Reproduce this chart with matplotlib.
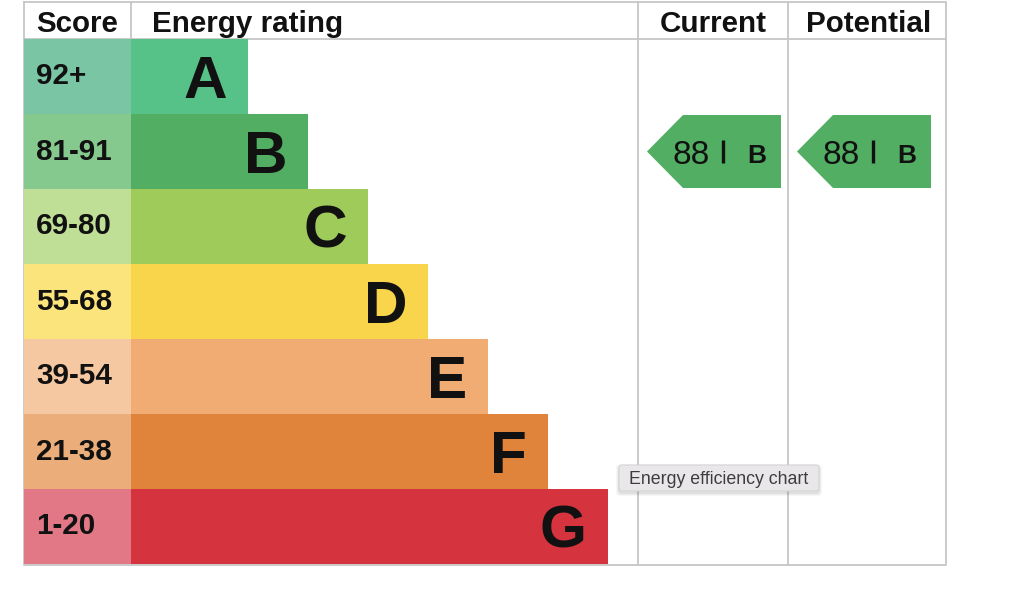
import matplotlib
matplotlib.use("Agg")
import matplotlib.pyplot as plt
from matplotlib.patches import Polygon, FancyBboxPatch

# ---- data ----
ratings = ["A", "B", "C", "D", "E", "F", "G"]
score_ranges = ["92+", "81-91", "69-80", "55-68", "39-54", "21-38", "1-20"]
bar_colors = ["#56c288", "#52ae62", "#9ecb59", "#f8d54b", "#f0ac72", "#e0843c", "#d5343f"]
score_colors = ["#7ac5a4", "#86c98e", "#c0df96", "#fbe47b", "#f5c8a1", "#ebae7b", "#e27786"]
headers = ["Score", "Energy rating", "Current", "Potential"]
current_score, current_rating = 88, "B"
potential_score, potential_rating = 88, "B"
tooltip_text = "Energy efficiency chart"

plt.rcParams['font.family'] = ['Liberation Sans', 'DejaVu Sans']

W, H = 1024, 594
fig = plt.figure(figsize=(W / 100, H / 100), dpi=100)
ax = fig.add_axes([0, 0, 1, 1])
ax.set_xlim(0, W)
ax.set_ylim(H, 0)
ax.axis("off")

# layout
left, score_right, cur_left, pot_left, right = 24, 131, 638, 788, 946
top, head_bot, row_h = 2, 39, 75
bottom = head_bot + row_h * len(ratings) + 1
grid_c = "#c6c6c6"
txt_c = "#111111"

centers = [head_bot + row_h * (i + 0.5) for i in range(len(ratings))]
widths = [117 + 60 * i for i in range(len(ratings))]

# score column and bars
ax.barh(centers, [score_right - left] * len(ratings), left=left, height=row_h,
        color=score_colors, zorder=2)
ax.barh(centers, widths, left=score_right, height=row_h, color=bar_colors, zorder=2)

for i, (r, s) in enumerate(zip(ratings, score_ranges)):
    ax.text(left + 12, centers[i] + 8, s, fontsize=21.3, fontweight="bold",
            ha="left", va="baseline", color=txt_c, zorder=3)
    ax.text(score_right + widths[i] - 21, centers[i] + 21.5, r, fontsize=43.5, fontweight="bold",
            ha="right", va="baseline", color=txt_c, zorder=3)

# grid lines
lw = 1.3
ax.plot([left, right, right, left, left], [top, top, bottom, bottom, top], color=grid_c, lw=lw, zorder=1)
ax.plot([left, right], [head_bot, head_bot], color=grid_c, lw=lw, zorder=1)
ax.plot([score_right, score_right], [top, head_bot], color=grid_c, lw=lw, zorder=1)
for x in (cur_left, pot_left):
    ax.plot([x, x], [top, bottom], color=grid_c, lw=lw, zorder=1)

# headers
hy = 31.5
ax.text(left + 12, hy, headers[0], fontsize=21.3, fontweight="bold", ha="left", va="baseline", color=txt_c)
ax.text(score_right + 21, hy, headers[1], fontsize=21.3, fontweight="bold", ha="left", va="baseline", color=txt_c)
ax.text((cur_left + pot_left) / 2, hy, headers[2], fontsize=21.3, fontweight="bold", ha="center", va="baseline", color=txt_c)
ax.text((pot_left + right) / 2 + 2, hy, headers[3], fontsize=21.3, fontweight="bold", ha="center", va="baseline", color=txt_c)

# arrows
def arrow(col_left, score, rating):
    idx = ratings.index(rating)
    yc = centers[idx]
    y0, y1 = yc - row_h / 2 + 1, yc + row_h / 2 - 1
    tip = col_left + 9
    body = tip + 36
    end = col_left + 143
    poly = Polygon([(tip, yc), (body, y0), (end, y0), (end, y1), (body, y1)],
                   closed=True, facecolor=bar_colors[idx], edgecolor="none", zorder=2)
    ax.add_patch(poly)
    ax.text(col_left + 53, yc + 12.5, str(score), fontsize=24, ha="center", va="baseline", color=txt_c, zorder=3)
    ax.plot([col_left + 84.5, col_left + 84.5], [yc - 11.5, yc + 11.5], color=txt_c, lw=2.4,
            solid_capstyle="butt", zorder=3)
    ax.text(col_left + 119, yc + 11.5, rating, fontsize=19, fontweight="bold", ha="center", va="baseline",
            color=txt_c, zorder=3)

arrow(cur_left, current_score, current_rating)
arrow(pot_left, potential_score, potential_rating)

# tooltip (with faint shadow)
for k, a in enumerate([0.05, 0.04, 0.03]):
    sh = FancyBboxPatch((619 - 1 - k, 465 + 1 - k), 200 + 2 + 2 * k, 26 + 2 + 2 * k,
                        boxstyle="round,pad=0,rounding_size=4",
                        facecolor="black", edgecolor="none", alpha=a, zorder=4)
    ax.add_patch(sh)
tip_box = FancyBboxPatch((619, 465), 200, 26, boxstyle="round,pad=0,rounding_size=3",
                         facecolor="#e9e7ea", edgecolor="#d6d4d7", lw=0.8, zorder=5)
ax.add_patch(tip_box)
ax.text(719, 483.5, tooltip_text, fontsize=12.8, ha="center", va="baseline", color="#3d3d3d", zorder=6)

fig.savefig("out.png", dpi=100)
